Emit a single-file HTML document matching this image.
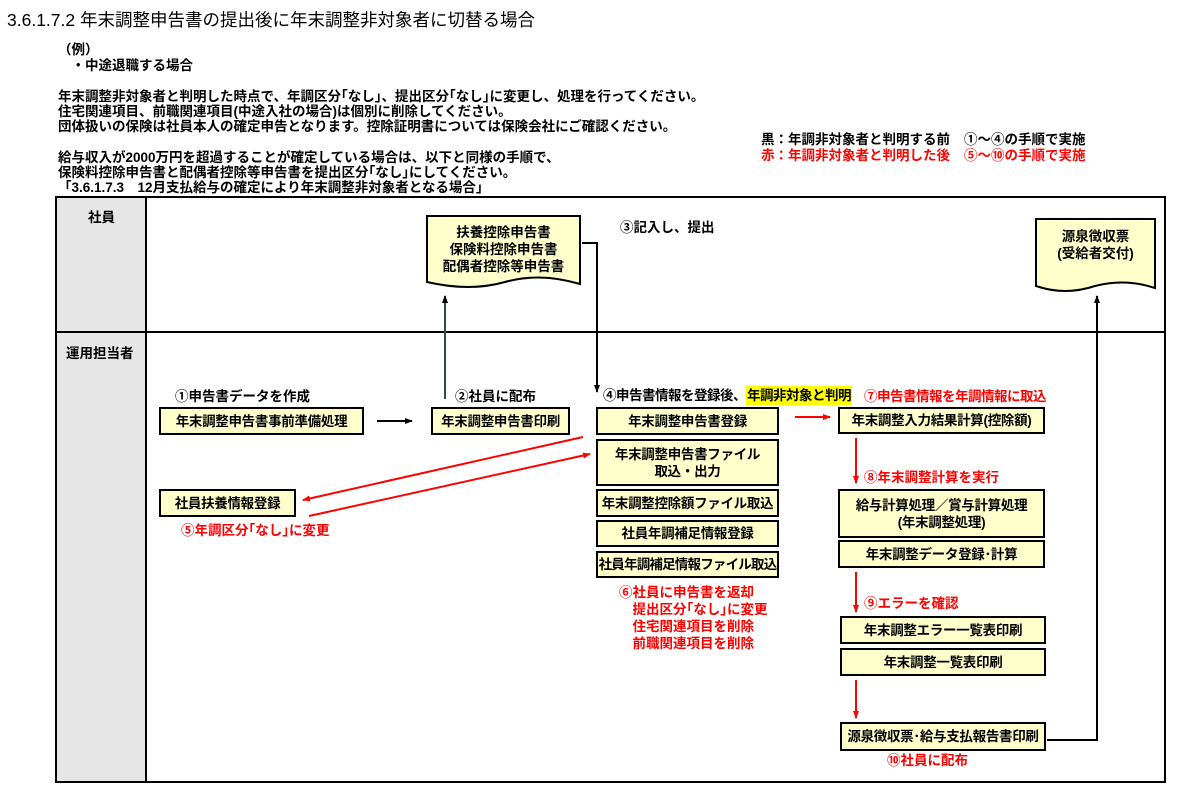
<!DOCTYPE html>
<html><head><meta charset="utf-8"><style>
body{margin:0;width:1178px;height:795px;background:#fff;position:relative;overflow:hidden;font-family:"Liberation Sans","Noto Sans CJK JP",sans-serif;font-weight:bold;font-size:13.5px;color:#000}
.t{position:absolute;white-space:nowrap;line-height:16px}
.r{color:#f00}
.b{position:absolute;box-sizing:border-box;border:2px solid #000;background:#ffffcc;display:flex;align-items:center;justify-content:center;text-align:center;line-height:17px;font-size:13.5px;white-space:nowrap;letter-spacing:-0.3px}
svg{position:absolute;left:0;top:0}
</style></head><body>
<svg width="1178" height="795">
<rect x="56" y="197" width="90" height="585" fill="#e6e6e6"/>
<rect x="56" y="197" width="1109" height="585" fill="none" stroke="#000" stroke-width="2"/>
<line x1="146" y1="197" x2="146" y2="782" stroke="#000" stroke-width="2"/>
<line x1="56" y1="332" x2="1165" y2="332" stroke="#000" stroke-width="2"/>
<path d="M427 216 H580 V284 Q540 272 505 282 Q470 292 427 282 Z" fill="#ffffcc" stroke="#000" stroke-width="2"/>
<path d="M1036 219 H1155 V288 Q1125 278 1095 286 Q1065 296 1036 286 Z" fill="#ffffcc" stroke="#000" stroke-width="2"/>
<defs>
<marker id="ak" markerWidth="8" markerHeight="8" refX="7" refY="4" orient="auto" markerUnits="userSpaceOnUse"><path d="M0 1 L8 4 L0 7Z" fill="#000"/></marker>
<marker id="ar" markerWidth="8" markerHeight="8" refX="7" refY="4" orient="auto" markerUnits="userSpaceOnUse"><path d="M0 1 L8 4 L0 7Z" fill="#f00"/></marker>
</defs>
<g stroke="#000" stroke-width="2" fill="none">
<line x1="377" y1="421" x2="412" y2="421" marker-end="url(#ak)"/>
<line x1="445" y1="399" x2="445" y2="296" marker-end="url(#ak)" stroke="#2f4f2f"/>
<polyline points="582,243 597,243 597,392" marker-end="url(#ak)"/>
<polyline points="1047,740 1097,740 1097,296" marker-end="url(#ak)"/>
</g>
<g stroke="#f00" stroke-width="2" fill="none">
<line x1="795" y1="417" x2="830" y2="417" marker-end="url(#ar)"/>
<line x1="856" y1="438" x2="856" y2="483" marker-end="url(#ar)"/>
<line x1="856" y1="572" x2="856" y2="612" marker-end="url(#ar)"/>
<line x1="856" y1="680" x2="856" y2="718" marker-end="url(#ar)"/>
<line x1="583" y1="437" x2="303" y2="500" marker-end="url(#ar)"/>
<line x1="309" y1="516" x2="590" y2="454" marker-end="url(#ar)"/>
</g>
</svg>
<div class="t" style="left:7px;top:9px;font-size:17.5px;font-weight:normal;line-height:22px">3.6.1.7.2 年末調整申告書の提出後に年末調整非対象者に切替る場合</div>
<div class="t" style="left:58px;top:42px">（例）</div>
<div class="t" style="left:58px;top:58px">　・中途退職する場合</div>
<div class="t" style="left:58px;top:89px">年末調整非対象者と判明した時点で、年調区分｢なし｣、提出区分｢なし｣に変更し、処理を行ってください。</div>
<div class="t" style="left:58px;top:104px">住宅関連項目、前職関連項目(中途入社の場合)は個別に削除してください。</div>
<div class="t" style="left:58px;top:119px">団体扱いの保険は社員本人の確定申告となります。控除証明書については保険会社にご確認ください。</div>
<div class="t" style="left:58px;top:150px">給与収入が2000万円を超過することが確定している場合は、以下と同様の手順で、</div>
<div class="t" style="left:58px;top:165px">保険料控除申告書と配偶者控除等申告書を提出区分｢なし｣にしてください。</div>
<div class="t" style="left:58px;top:180px">「3.6.1.7.3　12月支払給与の確定により年末調整非対象者となる場合」</div>
<div class="t" style="left:761px;top:132px">黒：年調非対象者と判明する前</div>
<div class="t" style="left:964px;top:132px">①～④の手順で実施</div>
<div class="t r" style="left:761px;top:148px">赤：年調非対象者と判明した後</div>
<div class="t r" style="left:964px;top:148px">⑤～⑩の手順で実施</div>
<div class="t" style="left:88px;top:210px">社員</div>
<div class="t" style="left:66px;top:346px">運用担当者</div>
<div class="t" style="left:427px;top:224px;width:153px;text-align:center;line-height:17px">扶養控除申告書<br>保険料控除申告書<br>配偶者控除等申告書</div>
<div class="t" style="left:1036px;top:228px;width:119px;text-align:center;line-height:17px">源泉徴収票<br>(受給者交付)</div>
<div class="t" style="left:620px;top:220px">③記入し、提出</div>
<div class="t" style="left:175px;top:389px">①申告書データを作成</div>
<div class="t" style="left:455px;top:389px">②社員に配布</div>
<div class="t" style="left:603px;top:388px;letter-spacing:-0.5px">④申告書情報を登録後、<span style="background:#ffff00;padding:2px 1px">年調非対象と判明</span></div>
<div class="t r" style="left:864px;top:389px;letter-spacing:-0.5px">⑦申告書情報を年調情報に取込</div>
<div class="t r" style="left:864px;top:470px">⑧年末調整計算を実行</div>
<div class="t r" style="left:864px;top:596px">⑨エラーを確認</div>
<div class="t r" style="left:887px;top:753px">⑩社員に配布</div>
<div class="t r" style="left:181px;top:523px">⑤年調区分｢なし｣に変更</div>
<div class="t r" style="left:619px;top:584px;line-height:17px">⑥社員に申告書を返却<br>　提出区分｢なし｣に変更<br>　住宅関連項目を削除<br>　前職関連項目を削除</div>
<div class="b" style="left:159px;top:407px;width:205px;height:28px">年末調整申告書事前準備処理</div>
<div class="b" style="left:431px;top:407px;width:139px;height:28px">年末調整申告書印刷</div>
<div class="b" style="left:159px;top:489px;width:137px;height:28px">社員扶養情報登録</div>
<div class="b" style="left:596px;top:407px;width:183px;height:28px">年末調整申告書登録</div>
<div class="b" style="left:596px;top:439px;width:183px;height:47px">年末調整申告書ファイル<br>取込・出力</div>
<div class="b" style="left:596px;top:489px;width:183px;height:28px">年末調整控除額ファイル取込</div>
<div class="b" style="left:596px;top:520px;width:183px;height:27px">社員年調補足情報登録</div>
<div class="b" style="left:596px;top:551px;width:183px;height:27px;letter-spacing:-0.8px">社員年調補足情報ファイル取込</div>
<div class="b" style="left:838px;top:407px;width:207px;height:27px">年末調整入力結果計算(控除額)</div>
<div class="b" style="left:838px;top:489px;width:207px;height:49px">給与計算処理／賞与計算処理<br>(年末調整処理)</div>
<div class="b" style="left:838px;top:540px;width:207px;height:28px">年末調整データ登録･計算</div>
<div class="b" style="left:840px;top:616px;width:206px;height:28px">年末調整エラー一覧表印刷</div>
<div class="b" style="left:840px;top:648px;width:206px;height:28px">年末調整一覧表印刷</div>
<div class="b" style="left:840px;top:722px;width:206px;height:29px">源泉徴収票･給与支払報告書印刷</div>
</body></html>
